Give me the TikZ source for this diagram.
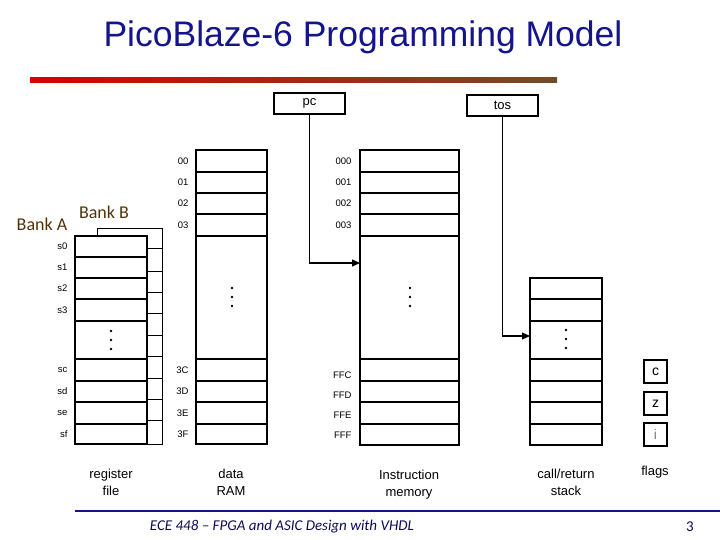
\documentclass[tikz,border=0pt]{standalone}
\usepackage{fontspec}
\setmainfont{Liberation Sans}
\newfontfamily\calib{Carlito}
\usetikzlibrary{arrows.meta}
\definecolor{ttl}{RGB}{20,20,140}
\definecolor{bank}{RGB}{80,50,10}
\begin{document}
\begin{tikzpicture}[x=1pt,y=-1pt,
  cell/.style={draw,line width=1.1pt},
  lbl/.style={font=\fontsize{9.5}{10}\selectfont,anchor=east},
  captxt/.style={font=\fontsize{13}{17}\selectfont,align=center},
  dot/.style={fill,circle,inner sep=0pt,minimum size=2.8pt},
  arr/.style={line width=1.1pt,-{Triangle[length=8pt,width=7pt]}}]
\useasboundingbox (0,0) rectangle (720,540);
\node[text=ttl,font=\fontsize{35.5}{40}\selectfont] (title) at (363,37) {PicoBlaze-6 Programming Model};
\shade[left color=red!85!black,right color=brown!60!black] (30,78) rectangle (557,83);
% register file bank B
\draw[line width=0.6pt] (97,236) -- (97,228) -- (162,228) -- (162,444) -- (147,444);
\foreach \y in {248,271,292,313,335,356,378,399,420} \draw[line width=0.6pt] (147,\y) -- (162,\y);
\foreach \a/\b in {236/257,257/278,278/299,299/321,321/359,359/381,381/402,402/424,424/444}
  \draw[cell,fill=white] (75,\a) rectangle (147,\b);
\foreach \t/\y in {s0/246,s1/267,s2/288,s3/310,sc/370,sd/391,se/413,sf/434}
  \node[lbl] at (71,\y) {\t};
\foreach \y in {331,340,349} \node[dot] at (111,\y) {};
\node[text=bank,font=\calib\fontsize{18}{20}\selectfont] (bA) at (42,224) {Bank A};
\node[text=bank,font=\calib\fontsize{18}{20}\selectfont] (bB) at (104,212) {Bank B};
% data RAM
\foreach \a/\b in {150/172,172/193,193/214,214/236,236/359,359/381,381/402,402/424,424/444}
  \draw[cell] (196,\a) rectangle (267,\b);
\foreach \t/\y in {00/161,01/182,02/203,03/225,3C/370,3D/391,3E/413,3F/434}
  \node[lbl] at (192,\y) {\t};
\foreach \y in {288,297,306} \node[dot] at (232,\y) {};
% instruction memory
\foreach \a/\b in {150/172,172/193,193/214,214/236,236/359,359/381,381/402,402/424,424/445}
  \draw[cell] (360,\a) rectangle (459,\b);
\foreach \t/\y in {000/161,001/182,002/203,003/225,FFC/375,FFD/395,FFE/415,FFF/435}
  \node[lbl] at (355,\y) {\t};
\foreach \y in {288,297,306} \node[dot] at (410,\y) {};
% stack
\foreach \a/\b in {278/299,299/321,321/359,359/381,381/402,402/424,424/445}
  \draw[cell] (530,\a) rectangle (602,\b);
\foreach \y in {330,339,348} \node[dot] at (566,\y) {};
% pc, tos
\node[cell,minimum width=71pt,minimum height=21pt,inner sep=0pt,font=\fontsize{13}{13}\selectfont] (pc) at (309.5,103.5) {pc};
\node[cell,minimum width=71pt,minimum height=21pt,inner sep=0pt,font=\fontsize{13}{13}\selectfont] (tos) at (502.5,105.5) {tos};
\coordinate (pcT) at (360,263);
\coordinate (tosT) at (530,336);
\draw[arr] (pc.south) |- (pcT);
\draw[arr] (tos.south) |- (tosT);
% flags
\node[cell,minimum width=23pt,minimum height=23pt,inner sep=0pt,font=\fontsize{14}{14}\selectfont] (fc) at (655.5,371.5) {c};
\node[cell,minimum width=23pt,minimum height=23pt,inner sep=0pt,font=\fontsize{14}{14}\selectfont] (fz) at (655.5,403.5) {z};
\node[cell,minimum width=23pt,minimum height=23pt,inner sep=0pt,font=\fontsize{14}{14}\selectfont,text=gray] (fi) at (655.5,434.5) {i};
% captions
\node[captxt] (c1) at (111,482) {register\\file};
\node[captxt] (c2) at (231,482) {data\\RAM};
\node[captxt] (c3) at (409,485) {Instruction\\memory};
\node[captxt] (c4) at (566,482) {call/return\\stack};
\node[captxt] (c5) at (655,472) {flags};
% footer
\draw[ttl,line width=1.5pt] (75,511) -- (720,511);
\node[font=\calib\itshape\fontsize{15}{16}\selectfont,text=ttl!60!black] (ft) at (282,527) {ECE 448 – FPGA and ASIC Design with VHDL};
\node[font=\calib\fontsize{15}{16}\selectfont,text=ttl!60!black] (pg) at (690,527) {3};
\end{tikzpicture}
\end{document}
